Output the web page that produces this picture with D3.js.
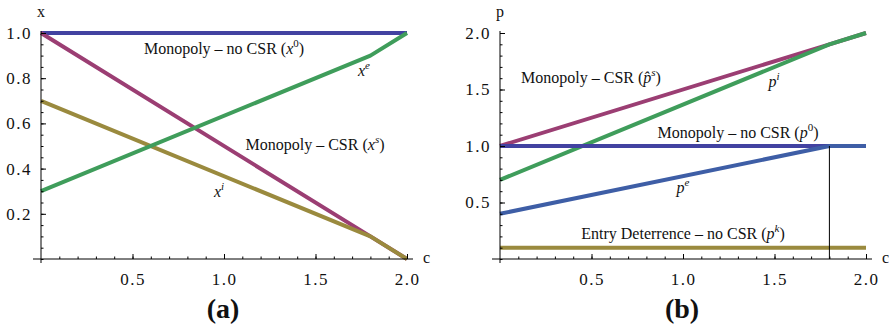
<!DOCTYPE html>
<html lang="en">
  <head>
    <meta charset="utf-8">
    <title>CSR panels</title>
    <script src="https://d3js.org/d3.v7.min.js"></script>
    <style>
      body { margin: 0; background: #fff; }
      svg text { font-family: "Liberation Serif", "Times New Roman", Times, serif !important; fill: #111; }
      .tick text { font-size: 17px; }
      .lbl { font-size: 16px; }
      .it { font-style: italic; }
    </style>
  </head>
  <body>
    <script type="text/javascript">
    // kink points on the c axis
    var cVals = [0, 1.8, 2];
    var cBar = 1.8;

    // panel (a): quantities
    var xMono   = [1, 1, 1];
    var xCSR    = [1, 0.1, 0];
    var xIncumb = [0.7, 0.1, 0];
    var xEntry  = [0.3, 0.9, 1.0];

    // panel (b): prices
    var pCSR    = [1, 1.9, 2];
    var pIncumb = [0.7, 1.9, 2];
    var pMono   = [1, 1, 1];
    var pEntry  = [0.4, 1.0, 1.0];
    var pDeter  = [0.1, 0.1, 0.1];

    var xTicks = [0.5, 1.0, 1.5, 2.0];
    var aTicks = [0.2, 0.4, 0.6, 0.8, 1.0];
    var bTicks = [0.5, 1.0, 1.5, 2.0];

    var col = {
      blue: "#4242a1", purple: "#9b3e73", olive: "#9a8a3e",
      green: "#3f9d5b", blue2: "#3e5ea6"
    };

    var svg = d3.select("body").append("svg")
      .attr("width", 889).attr("height", 332);

    function zip(ys) { return cVals.map(function(c, i) { return [c, ys[i]]; }); }

    function panel(opt) {
      var x = d3.scaleLinear().domain([0, 2]).range([opt.x0, opt.x0 + 366]);
      var y = d3.scaleLinear().domain([0, opt.ymax]).range([259, 33]);
      var g = svg.append("g");

      var line = d3.line()
        .x(function(d) { return x(d[0]); })
        .y(function(d) { return y(d[1]); });

      opt.series.forEach(function(s) {
        g.append("path").datum(zip(s.v))
          .attr("d", line).attr("fill", "none")
          .attr("stroke", s.c).attr("stroke-width", 4)
          .attr("stroke-linejoin", "round");
      });

      // axis lines
      g.append("line").attr("x1", x(0) - 8).attr("x2", x(2) + 6)
        .attr("y1", y(0)).attr("y2", y(0)).attr("stroke", "#000");
      g.append("line").attr("x1", x(0)).attr("x2", x(0))
        .attr("y1", y(0) + 4).attr("y2", y(opt.ymax) - 2).attr("stroke", "#000");

      // x ticks
      g.append("g").attr("transform", "translate(0," + y(0) + ")")
        .call(d3.axisBottom(x).tickValues(xTicks).tickSizeInner(-5).tickSizeOuter(0).tickPadding(14)
          .tickFormat(d3.format(".1f")));
      g.append("g").attr("transform", "translate(0," + y(0) + ")")
        .call(d3.axisBottom(x).tickValues(d3.range(1, 20).map(function(i) { return i / 10; }))
          .tickSizeInner(-2.5).tickSizeOuter(0).tickFormat(""));
      // y ticks
      g.append("g").attr("transform", "translate(" + x(0) + ",0)")
        .call(d3.axisLeft(y).tickValues(opt.yTicks).tickSizeInner(-5).tickSizeOuter(0).tickPadding(9)
          .tickFormat(d3.format(".1f")));
      g.append("g").attr("transform", "translate(" + x(0) + ",0)")
        .call(d3.axisLeft(y).tickValues(d3.range(0, Math.round(opt.ymax / opt.yMinor) + 1).map(function(i) { return i * opt.yMinor; }))
          .tickSizeInner(-2.5).tickSizeOuter(0).tickFormat(""));
      g.selectAll(".domain").remove();
      g.selectAll(".tick line").attr("stroke", "#000");
      g.selectAll(".tick text").attr("fill", "#111").style("font-size", "17px")
        .attr("letter-spacing", "1.5px");

      // axis names
      g.append("text").attr("class", "lbl").attr("x", x(0)).attr("y", 17)
        .attr("text-anchor", "middle").text(opt.yName);
      g.append("text").attr("class", "lbl").attr("x", x(2) + 16).attr("y", y(0) + 4).text("c");

      g.append("text").attr("x", x(1) - 1).attr("y", 318).attr("text-anchor", "middle")
        .style("font-size", "28px").style("font-weight", "bold").text(opt.tag);

      return { g: g, x: x, y: y };
    }

    function label(g, px, py, pre, v, sup) {
      var t = g.append("text").attr("class", "lbl").attr("x", px).attr("y", py).attr("text-anchor", "middle");
      if (pre) t.append("tspan").text(pre);
      t.append("tspan").attr("class", "it").text(v);
      t.append("tspan").attr("class", /\d/.test(sup) ? null : "it")
        .attr("dy", -7).style("font-size", "11px").text(sup);
      if (pre) t.append("tspan").attr("dy", 7).text(")");
      return t;
    }

    var a = panel({
      x0: 41, ymax: 1, yTicks: aTicks, yMinor: 0.05, yName: "x", tag: "(a)",
      series: [
        { v: xMono, c: col.blue },
        { v: xCSR, c: col.purple },
        { v: xIncumb, c: col.olive },
        { v: xEntry, c: col.green }
      ]
    });
    label(a.g, 224, 54, "Monopoly \u2013 no CSR (", "x", "0");
    label(a.g, 364, 76, null, "x", "e");
    label(a.g, 315, 150, "Monopoly \u2013 CSR (", "x", "s");
    label(a.g, 219, 197, null, "x", "i");

    var b = panel({
      x0: 500, ymax: 2, yTicks: bTicks, yMinor: 0.1, yName: "p", tag: "(b)",
      series: [
        { v: pCSR, c: col.purple },
        { v: pIncumb, c: col.green },
        { v: pMono, c: col.blue },
        { v: pEntry, c: col.blue2 },
        { v: pDeter, c: col.olive }
      ]
    });
    b.g.append("line").attr("x1", b.x(cBar)).attr("x2", b.x(cBar))
      .attr("y1", b.y(0)).attr("y2", b.y(1)).attr("stroke", "#000").attr("stroke-width", 1);

    label(b.g, 591, 83, "Monopoly \u2013 CSR (", "p\u0302", "s");
    label(b.g, 774, 87, null, "p", "i");
    label(b.g, 738, 138, "Monopoly \u2013 no CSR (", "p", "0");
    label(b.g, 683, 193, null, "p", "e");
    label(b.g, 683, 239, "Entry Deterrence \u2013 no CSR (", "p", "k");
    </script>
  </body>
</html>
